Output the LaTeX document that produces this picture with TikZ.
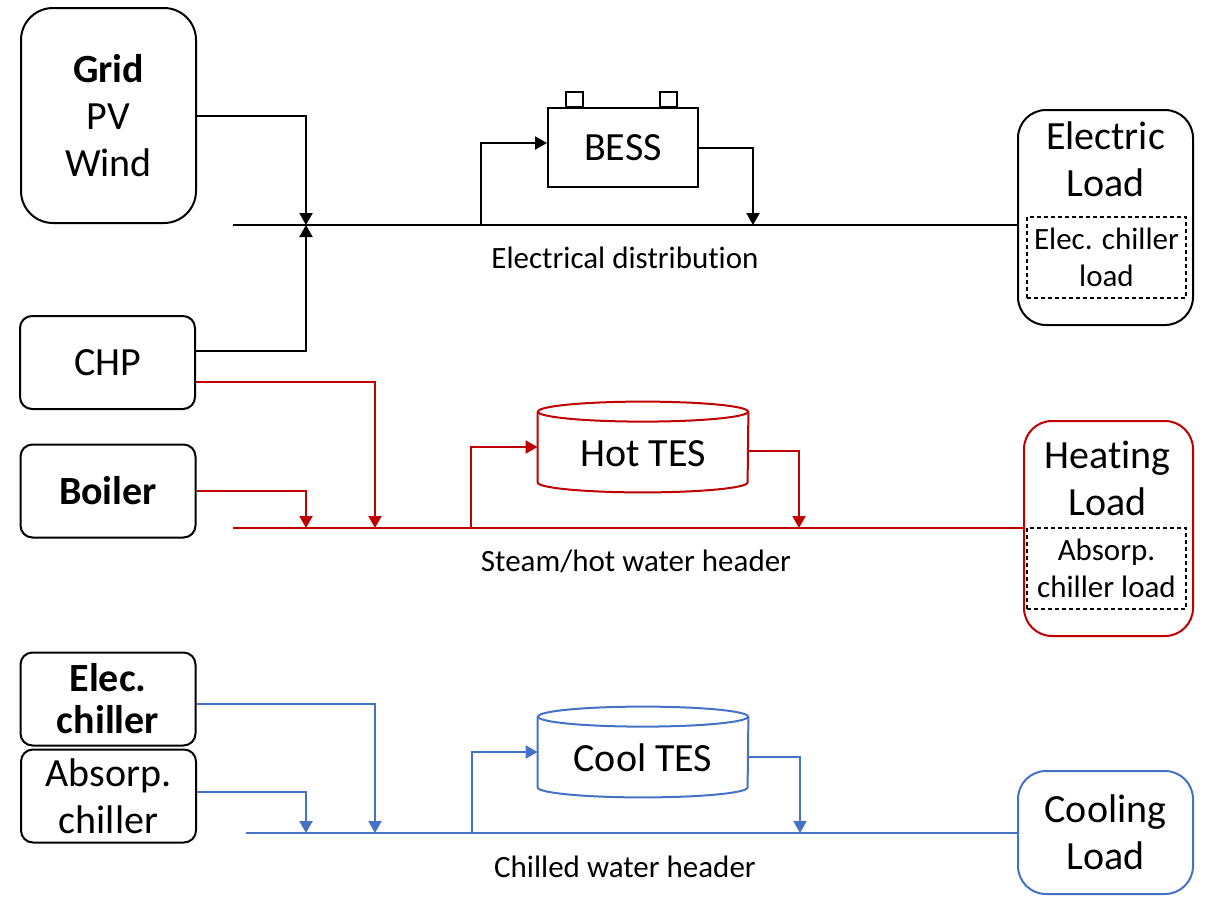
\documentclass[tikz,border=0pt]{standalone}
\usepackage{fontspec}
\setmainfont{Carlito}[Ligatures=NoCommon]
\usetikzlibrary{arrows.meta}
\definecolor{heat}{HTML}{C00000}
\definecolor{cool}{HTML}{4472C4}

\begin{document}
\begin{tikzpicture}[x=0.5pt, y=-0.5pt,
				every node/.style={font=\fontsize{20}{23.5}\selectfont, align=center, inner sep=0pt},
				unit/.style={draw, line width=1pt, rounded corners=6pt, minimum width=87.5pt, minimum height=46.5pt},
				load/.style={draw, line width=1pt, rounded corners=14pt, minimum width=87.5pt},
				share/.style={draw, dash pattern=on 2pt off 1.5pt, line width=0.75pt, minimum width=79.5pt, minimum height=40.5pt, font=\fontsize{15.5}{18.5}\selectfont},
				tank/.style={minimum width=105pt, minimum height=35pt, text height=20pt},
				buslabel/.style={font=\fontsize{15.5}{18}\selectfont},
				wire/.style={line width=1pt},
				feed/.style={line width=1pt, -{Triangle[length=6pt,width=6.5pt]}}
				]
				\useasboundingbox (0,0) rectangle (1206,896);
				% sources
				\node[unit, minimum height=107.5pt, rounded corners=16pt] (grid) at (108.5,115.5) {\textbf{Grid}\\PV\\Wind};
				\node[unit] (chp) at (107.5,362.5) {CHP};
				\node[unit] (boiler) at (108,491) {\textbf{Boiler}};
				\node[unit, font=\fontsize{20}{21}\selectfont\bfseries] (echill) at (108,699) {Elec.\\chiller};
				\node[unit] (achill) at (108.5,796) {Absorp.\\chiller};
				% electrical
				\coordinate (ebusL) at (233,225);
				\coordinate (ein) at (306,225);
				\coordinate (etap) at (481,225);
				\coordinate (eout) at (753,225);
				\node[draw, wire, minimum width=75pt, minimum height=39.5pt] (bess) at (623,147.5) {BESS};
				\draw[wire] ([xshift=9.5pt]bess.north west) rectangle ++(8.5pt,7.5pt);
				\draw[wire] ([xshift=56.5pt]bess.north west) rectangle ++(8.5pt,7.5pt);
				\node[load, minimum height=107.5pt] (eload) at (1105.5,217.5) {};
				\node (eloadtxt) at (1105.5,159) {Electric\\Load};
				\node[share] (eshare) at (1106.5,257.5) {Elec. chiller\\load};
				\draw[wire] (ebusL) -- (ebusL -| eload.west);
				\draw[feed] (grid.east) -| (ein);
				\draw[feed] ([yshift=5.75pt]chp.east) -| (ein);
				\draw[feed] (etap) |- ([yshift=2.25pt]bess.west);
				\draw[feed] (bess.east) -| (eout);
				\node[buslabel] (elabel) at (625,258) {Electrical distribution};
				% heating
				\coordinate (hbusL) at (233,528);
				\coordinate (hin1) at (306,528);
				\coordinate (hin2) at (375,528);
				\coordinate (htap) at (471,528);
				\coordinate (hout) at (799,528);
				\node[tank] (hot) at (643,447) {Hot TES};
				\draw[heat, wire] (hot.north) ellipse [x radius=52.5pt, y radius=5pt];
				\draw[heat, wire] (hot.north west) -- (hot.south west) arc [start angle=180, end angle=360, x radius=52.5pt, y radius=5pt] -- (hot.north east);
				\node[load, draw=heat, minimum width=84.5pt, minimum height=107.5pt] (hload) at (1108.5,528.5) {};
				\node (hloadtxt) at (1107.5,478.5) {Heating\\Load};
				\node[share] (hshare) at (1106.5,568.5) {Absorp.\\chiller load};
				\draw[heat, wire] (hbusL) -- (hbusL -| hload.west);
				\draw[heat, feed] ([yshift=-9.75pt]chp.east) -| (hin2);
				\draw[heat, feed] (boiler.east) -| (hin1);
				\draw[heat, feed] (htap) |- (hot.west);
				\draw[heat, feed] ([yshift=-2pt]hot.east) -| (hout);
				\node[buslabel] (hlabel) at (636,561) {Steam/hot water header};
				% cooling
				\coordinate (cbusL) at (246,833);
				\coordinate (cin1) at (306,833);
				\coordinate (cin2) at (375,833);
				\coordinate (ctap) at (472,833);
				\coordinate (cout) at (800,833);
				\node[tank] (cold) at (643,752) {Cool TES};
				\draw[cool, wire] (cold.north) ellipse [x radius=52.5pt, y radius=5pt];
				\draw[cool, wire] (cold.north west) -- (cold.south west) arc [start angle=180, end angle=360, x radius=52.5pt, y radius=5pt] -- (cold.north east);
				\node[load, draw=cool, minimum height=61.5pt] (cload) at (1105.5,832.5) {Cooling\\Load};
				\draw[cool, wire] (cbusL) -- (cbusL -| cload.west);
				\draw[cool, feed] ([yshift=-2.5pt]echill.east) -| (cin2);
				\draw[cool, feed] ([yshift=2pt]achill.east) -| (cin1);
				\draw[cool, feed] (ctap) |- (cold.west);
				\draw[cool, feed] ([yshift=-2.5pt]cold.east) -| (cout);
				\node[buslabel] (clabel) at (625,867) {Chilled water header};
			\end{tikzpicture}
\end{document}
